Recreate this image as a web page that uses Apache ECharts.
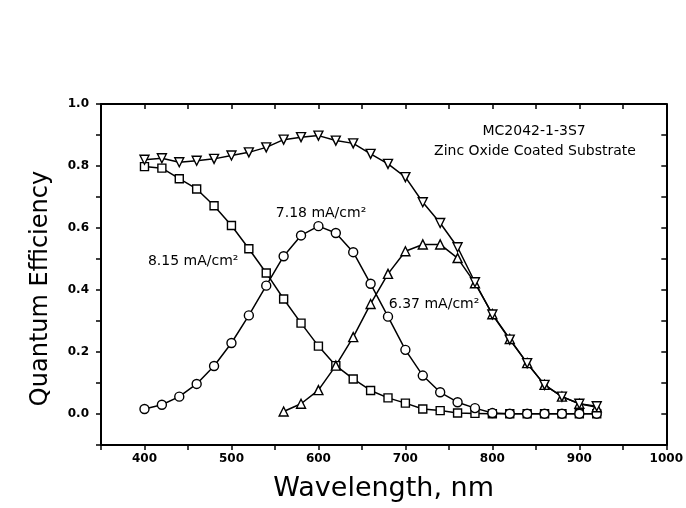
<!DOCTYPE html>
<html>
<head>
<meta charset="utf-8">
<script src="https://cdn.jsdelivr.net/npm/echarts@6/dist/echarts.min.js"></script>
<style>html,body{margin:0;padding:0;background:#fff}#c{width:686px;height:508px}</style>
</head>
<body>
<div id="c"></div>
<script>
// wavelengths (nm)
const wavelengths = [400,420,440,460,480,500,520,540,560,580,600,620,640,660,680,700,720,740,760,780,800,820,840,860,880,900,920];
const wavelengthsBottom = [560,580,600,620,640,660,680,700,720,740,760,780,800,820,840,860,880,900,920];
// Top cell 8.15 mA/cm2 (squares)
const topCell = [0.798,0.793,0.759,0.726,0.672,0.608,0.533,0.455,0.371,0.293,0.219,0.156,0.113,0.076,0.052,0.035,0.016,0.011,0.003,0.002,0.001,0.001,0.001,0.001,0.001,0.001,0.001];
// Middle cell 7.18 mA/cm2 (circles)
const middleCell = [0.016,0.030,0.056,0.097,0.155,0.229,0.318,0.414,0.509,0.576,0.606,0.584,0.522,0.420,0.314,0.207,0.124,0.070,0.038,0.019,0.003,0.001,0.001,0.001,0.001,0.001,0.001];
// Bottom cell 6.37 mA/cm2 (up triangles)
const bottomCell = [0.008,0.033,0.077,0.156,0.248,0.355,0.452,0.525,0.547,0.547,0.503,0.422,0.322,0.242,0.164,0.094,0.056,0.033,0.022];
// Total (down triangles)
const total = [0.820,0.825,0.812,0.817,0.823,0.834,0.844,0.860,0.885,0.893,0.898,0.882,0.873,0.839,0.807,0.764,0.683,0.616,0.538,0.425,0.321,0.240,0.164,0.094,0.056,0.033,0.025];

const FONT = 'DejaVu Sans';
const chart = echarts.init(document.getElementById('c'), null, {renderer:'canvas'});

function pairs(xs, ys){ return xs.map((x,i)=>[x, ys[i]]); }

const lineCommon = {
  type:'line',
  smooth:false,
  symbolSize:8,
  lineStyle:{color:'#000', width:1.5},
  itemStyle:{color:'#fff', borderColor:'#000', borderWidth:1.4},
  emphasis:{disabled:true},
  animation:false,
  z:3
};
const annoLabel = {show:true, color:'#000', fontFamily:FONT, fontSize:14, position:'inside'};

const option = {
  animation:false,
  backgroundColor:'#fff',
  grid:{left:101, right:18, top:104, bottom:63},
  xAxis:[
    {
      type:'value', min:350, max:1000, interval:50, position:'bottom',
      name:'Wavelength, nm', nameLocation:'middle', nameGap:30,
      nameTextStyle:{fontFamily:FONT, fontSize:27, color:'#000'},
      axisLine:{show:true, onZero:false, lineStyle:{color:'#000', width:2}},
      axisTick:{show:true, inside:false, length:5, lineStyle:{color:'#000', width:1.5}},
      axisLabel:{show:true, margin:8, color:'#000', fontFamily:FONT, fontWeight:'bold', fontSize:12,
        formatter:v => (Math.round(v) % 100 === 0 ? String(Math.round(v)) : '')},
      splitLine:{show:false}
    },
    {
      type:'value', min:350, max:1000, interval:50, position:'top',
      axisLine:{show:true, onZero:false, lineStyle:{color:'#000', width:2}},
      axisTick:{show:true, inside:true, length:5, lineStyle:{color:'#000', width:1.5}},
      axisLabel:{show:false}, splitLine:{show:false}
    }
  ],
  yAxis:[
    {
      type:'value', min:-0.1, max:1.0, interval:0.1, position:'left',
      name:'Quantum Efficiency', nameLocation:'middle', nameGap:48, nameRotate:90,
      nameTextStyle:{fontFamily:FONT, fontSize:24, color:'#000', padding:[0,28,0,0]},
      axisLine:{show:true, onZero:false, lineStyle:{color:'#000', width:2}},
      axisTick:{show:true, inside:false, length:5, lineStyle:{color:'#000', width:1.5}},
      axisLabel:{show:true, margin:12, color:'#000', fontFamily:FONT, fontWeight:'bold', fontSize:12,
        formatter:v => (Math.abs(Math.round(v*10)) % 2 === 0 ? v.toFixed(1) : '')},
      splitLine:{show:false}
    },
    {
      type:'value', min:-0.1, max:1.0, interval:0.1, position:'right',
      axisLine:{show:true, onZero:false, lineStyle:{color:'#000', width:2}},
      axisTick:{show:true, inside:true, length:5, lineStyle:{color:'#000', width:1.5}},
      axisLabel:{show:false}, splitLine:{show:false}
    }
  ],
  series:[
    Object.assign({}, lineCommon, {
      name:'Top cell', symbol:'rect', symbolSize:8, data:pairs(wavelengths, topCell),
      markPoint:{symbol:'circle', symbolSize:0, animation:false, silent:true,
        data:[{coord:[456,0.491], label:Object.assign({}, annoLabel, {formatter:'8.15 mA/cm²'})}]}
    }),
    Object.assign({}, lineCommon, {
      name:'Middle cell', symbol:'circle', symbolSize:9, data:pairs(wavelengths, middleCell),
      markPoint:{symbol:'circle', symbolSize:0, animation:false, silent:true,
        data:[{coord:[603,0.646], label:Object.assign({}, annoLabel, {formatter:'7.18 mA/cm²'})}]}
    }),
    Object.assign({}, lineCommon, {
      name:'Bottom cell', symbol:'triangle', symbolSize:9, data:pairs(wavelengthsBottom, bottomCell),
      markPoint:{symbol:'circle', symbolSize:0, animation:false, silent:true,
        data:[{coord:[733,0.353], label:Object.assign({}, annoLabel, {formatter:'6.37 mA/cm²'})}]}
    }),
    Object.assign({}, lineCommon, {
      name:'Total', symbol:'triangle', symbolRotate:180, symbolSize:9, data:pairs(wavelengths, total),
      markPoint:{symbol:'circle', symbolSize:0, animation:false, silent:true,
        data:[
          {coord:[848,0.911], label:Object.assign({}, annoLabel, {formatter:'MC2042-1-3S7'})},
          {coord:[849,0.846], label:Object.assign({}, annoLabel, {formatter:'Zinc Oxide Coated Substrate'})}
        ]}
    })
  ]
};
chart.setOption(option);
</script>
</body>
</html>
